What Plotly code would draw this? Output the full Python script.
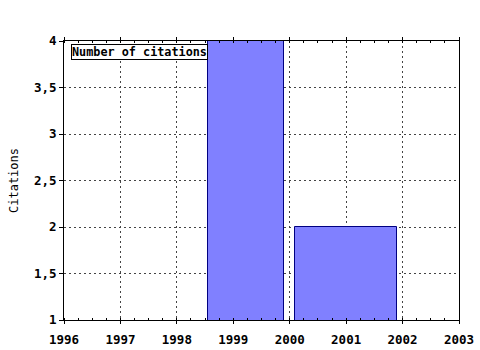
import plotly.graph_objects as go

# Data
bin_start = [1998.55, 2000.09]
bin_end = [1999.90, 2001.91]
citations = [4, 2]
x_ticks = [1996, 1997, 1998, 1999, 2000, 2001, 2002, 2003]
y_ticks = [1, 1.5, 2, 2.5, 3, 3.5, 4]
y_tick_labels = ["1", "1,5", "2", "2,5", "3", "3,5", "4"]
series_name = "Number of citations"
y_title = "Citations"

centers = [(a + b) / 2 for a, b in zip(bin_start, bin_end)]
widths = [b - a for a, b in zip(bin_start, bin_end)]

MONO = "DejaVu Sans Mono"

fig = go.Figure()
fig.add_trace(go.Bar(
    x=centers, y=citations, width=widths, base=0,
    marker=dict(color="#8080ff", line=dict(color="#000080", width=1)),
    name=series_name, showlegend=False,
))

fig.add_annotation(
    text=series_name, xref="paper", yref="paper",
    x=0.018, y=0.99, xanchor="left", yanchor="top",
    showarrow=False, bgcolor="white", bordercolor="black", borderwidth=1,
    borderpad=0,
    font=dict(family=MONO, size=11.8, color="black", weight="bold"),
)

fig.update_layout(
    width=480, height=350,
    margin=dict(l=64, r=21, t=41, b=30),
    paper_bgcolor="white", plot_bgcolor="white",
    bargap=0,
    xaxis=dict(
        range=[1996, 2003], tickvals=x_ticks, ticktext=[str(v) for v in x_ticks],
        showline=True, linecolor="black", linewidth=1, mirror="ticks",
        ticks="outside", ticklen=3, tickcolor="black",
        minor=dict(dtick=0.25, tick0=1996, ticks="inside", ticklen=2, tickcolor="black", showgrid=False),
        showgrid=True, gridcolor="#444444", griddash="2px,3px", gridwidth=1,
        zeroline=False, automargin=False,
        tickfont=dict(family=MONO, size=12.5, color="black", weight="bold"),
        ticklabelstandoff=5,
    ),
    yaxis=dict(
        range=[1, 4], tickvals=y_ticks, ticktext=y_tick_labels,
        showline=True, linecolor="black", linewidth=1, mirror=True,
        ticks="outside", ticklen=4, tickcolor="black",
        showgrid=True, gridcolor="#444444", griddash="2px,3px", gridwidth=1,
        zeroline=False, automargin=False,
        tickfont=dict(family=MONO, size=12.5, color="black", weight="bold"),
        title=dict(text=y_title, font=dict(family=MONO, size=12, color="black"), standoff=12),
    ),
)

fig.write_html("out.html")
